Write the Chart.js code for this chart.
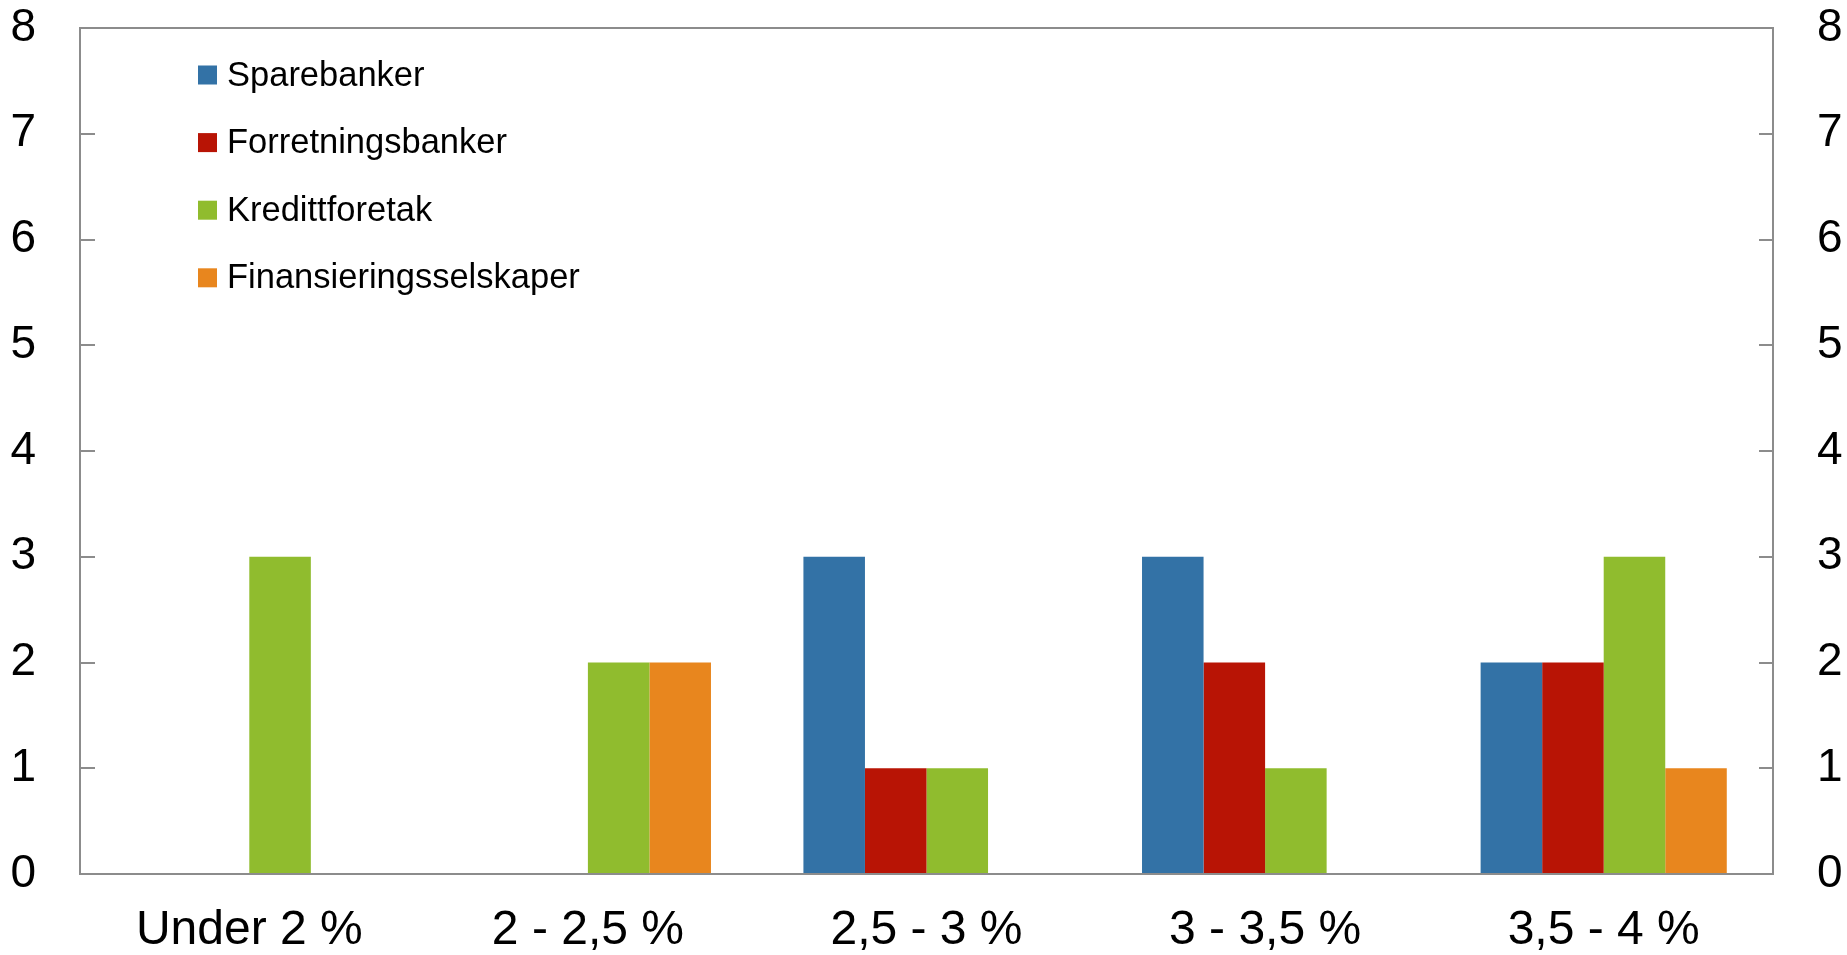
<!DOCTYPE html>
<html>
<head>
<meta charset="utf-8">
<script src="https://cdn.jsdelivr.net/npm/chart.js@4/dist/chart.umd.min.js"></script>
<style>
  html, body { margin: 0; padding: 0; background: #fff; }
  #wrap { width: 1847px; height: 955px; }
</style>
</head>
<body>
<div id="wrap"><canvas id="myChart" width="1847" height="955"></canvas></div>
<script>
// data
const categories = ['Under 2 %', '2 - 2,5 %', '2,5 - 3 %', '3 - 3,5 %', '3,5 - 4 %'];
const sparebanker = [0, 0, 3, 3, 2];
const forretningsbanker = [0, 0, 1, 2, 2];
const kredittforetak = [3, 2, 1, 1, 3];
const finansieringsselskaper = [0, 2, 0, 0, 1];
const yTicks = [0, 1, 2, 3, 4, 5, 6, 7, 8];

const axisColor = '#8c8c8c';
const fontFamily = '"Liberation Sans", Arial, sans-serif';

// box round the plot + inward tick marks + legend inside the plot
const framePlugin = {
    id: 'frame',
    afterDraw(chart) {
        const ctx = chart.ctx;
        const a = chart.chartArea;
        const y = chart.scales.y;
        ctx.save();
        ctx.strokeStyle = axisColor;
        ctx.lineWidth = 2;
        ctx.strokeRect(a.left, a.top, a.right - a.left, a.bottom - a.top);
        ctx.beginPath();
        yTicks.forEach(function (v) {
            const py = Math.round(y.getPixelForValue(v));
            ctx.moveTo(a.left, py);
            ctx.lineTo(a.left + 15, py);
            ctx.moveTo(a.right - 14, py);
            ctx.lineTo(a.right, py);
        });
        ctx.stroke();

        // legend
        ctx.font = '34.5px ' + fontFamily;
        ctx.textBaseline = 'middle';
        ctx.textAlign = 'left';
        chart.data.datasets.forEach(function (ds, i) {
            const cy = 75 + i * 67.6;
            ctx.fillStyle = ds.backgroundColor;
            ctx.fillRect(198, cy - 9.5, 19, 19);
            ctx.fillStyle = '#000';
            ctx.fillText(ds.label, 227, cy + 1);
        });
        ctx.restore();
    }
};

const data = {
    labels: categories,
    datasets: [
        { label: 'Sparebanker', data: sparebanker, backgroundColor: '#3372a6' },
        { label: 'Forretningsbanker', data: forretningsbanker, backgroundColor: '#b81405' },
        { label: 'Kredittforetak', data: kredittforetak, backgroundColor: '#90bc2e' },
        { label: 'Finansieringsselskaper', data: finansieringsselskaper, backgroundColor: '#e8861e' }
    ]
};

const yFont = { family: fontFamily, size: 46 };
const xFont = { family: fontFamily, size: 48 };

function fixY(width) {
    return function (s) {
        s.width = width;
        s.paddingTop = 0;
        s.paddingBottom = 0;
    };
}

const config = {
    type: 'bar',
    data: data,
    options: {
        responsive: false,
        animation: false,
        layout: { padding: { top: 28, left: 0, right: 0, bottom: 0 } },
        datasets: { bar: { barPercentage: 1, categoryPercentage: 0.727, borderWidth: 0 } },
        plugins: {
            legend: { display: false },
            tooltip: { enabled: false }
        },
        scales: {
            x: {
                grid: { display: false, drawTicks: false },
                border: { display: false },
                ticks: { color: '#000', font: xFont, padding: 28, maxRotation: 0 },
                afterFit: function (s) { s.height = 81; s.paddingLeft = 0; s.paddingRight = 0; }
            },
            y: {
                position: 'left',
                min: 0, max: 8,
                grid: { display: false, drawTicks: false },
                border: { display: false },
                ticks: { stepSize: 1, color: '#000', font: yFont, padding: 44 },
                afterFit: fixY(80)
            },
            y2: {
                position: 'right',
                min: 0, max: 8,
                grid: { display: false, drawTicks: false },
                border: { display: false },
                ticks: { stepSize: 1, color: '#000', font: yFont, padding: 44 },
                afterFit: fixY(74)
            }
        }
    },
    plugins: [framePlugin]
};

const myChart = new Chart(document.getElementById('myChart'), config);
</script>
</body>
</html>
